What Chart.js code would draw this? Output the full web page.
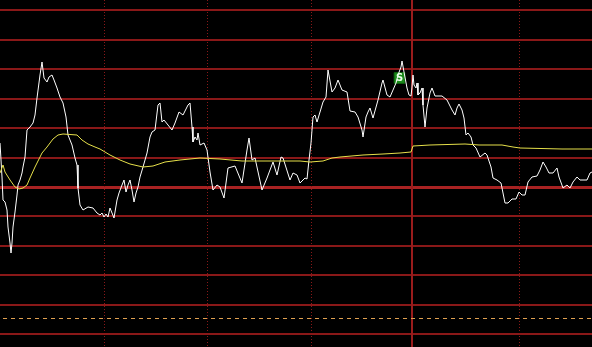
<!DOCTYPE html>
<html>
<head>
<meta charset="utf-8">
<script src="https://cdn.jsdelivr.net/npm/chart.js@4"></script>
<style>
  html, body { margin: 0; padding: 0; background: #000; }
  #wrap { width: 592px; height: 347px; position: relative; }
</style>
</head>
<body>
<div id="wrap"><canvas id="c"></canvas></div>
<script>
// indicator line (white)
const priceX = [0,2,3,5,7,8,10,11,12,13,15,17,18,20,22,23,25,27,30,33,35,37,40,42,44,47,49,52,54,57,60,63,66,68,72,75,77,78,80,83,88,93,97,100,102,104,106,108,110,112,114,117,119,122,124,126,128,130,132,134,136,138,140,143,147,150,152,155,158,160,162,164,168,172,175,179,183,188,190,192,193,195,197,198,200,204,207,210,213,217,220,224,228,235,242,247,249,252,255,262,267,273,277,281,283,290,293,297,300,305,307,309,311,313,315,317,320,323,326,328,332,335,338,342,347,350,355,358,362,363,366,368,370,373,378,382,383,387,390,393,396,398,401,402,404,407,409,411,412,413,414,416,417,418,420,422,423,425,427,430,432,435,442,447,452,455,457,459,462,464,466,468,471,473,476,480,485,487,491,493,497,501,503,505,508,512,516,519,522,525,528,532,537,540,543,546,549,553,557,559,563,567,570,573,577,580,587,590,592];
const priceY = [204,170,147,145,137,120,104,94,104,120,135,152,162,167,174,180,190,217,220,224,232,249,272,285,269,265,270,272,267,259,250,244,230,212,202,189,182,159,142,137,140,139,134,132,134,130,133,130,139,134,129,147,154,162,167,155,162,167,157,145,154,160,170,180,194,210,215,217,242,244,225,227,222,217,224,235,232,242,244,220,205,210,207,214,202,204,197,175,157,162,160,149,179,181,164,197,209,187,189,157,169,185,172,190,189,167,174,172,164,169,168,187,204,230,232,225,235,245,250,277,255,259,267,257,255,236,235,230,217,210,230,235,239,229,247,264,267,252,250,257,264,272,280,286,275,259,252,251,260,272,262,259,264,252,254,259,242,220,239,254,259,251,251,247,237,232,239,243,237,229,212,214,210,202,199,190,194,192,180,169,167,164,154,144,144,148,148,155,152,152,165,170,171,177,185,180,174,174,179,170,159,162,159,165,170,167,167,174,175];

// moving average (yellow)
const avgX = [0,3,5,10,15,19,23,27,30,35,42,47,53,58,63,77,82,88,95,100,110,120,130,143,153,165,180,200,220,242,300,310,323,332,340,363,383,400,411,413,430,465,479,502,513,520,562,592];
const avgY = [174,182,175,167,160,158,159,162,169,180,194,200,208,212,213,212,207,203,200,198,192,187,183,180,181,185,187,189,188,186,186,185,186,189,190,192,193,194,195,201,202,203,202,202,200,199,198,198];

// levels and time marks
const levels = [336.5, 307.1, 277.7, 248.3, 218.9, 189.5, 160.1, 130.7, 101.3, 71.9, 42.5, 13.1];
const mainLevel = 160.1;
const dashLevel = 28.7;
const dayMarks = [103.5, 207, 310.5, 518.5];
const nowMark = 411.5;
const signalX = [399.5];
const signalY = [269];
const signalText = "S";

const pts = (xs, ys) => xs.map((x, i) => ({ x, y: ys[i] }));

const backdrop = {
  id: "backdrop",
  beforeDatasetsDraw(chart) {
    const { ctx, scales: { x, y }, chartArea: a } = chart;
    ctx.save();
    levels.forEach((v) => {
      const py = Math.round(y.getPixelForValue(v));
      const main = v === mainLevel;
      ctx.strokeStyle = main ? "#a82222" : "#8a1818";
      ctx.lineWidth = main ? 3 : 2;
      ctx.beginPath();
      ctx.moveTo(a.left, main ? py + 0.5 : py);
      ctx.lineTo(a.right, main ? py + 0.5 : py);
      ctx.stroke();
    });
    ctx.strokeStyle = "#8a1818";
    ctx.lineWidth = 1;
    ctx.setLineDash([1, 2]);
    dayMarks.forEach((v) => {
      const px = Math.round(x.getPixelForValue(v)) + 0.5;
      ctx.beginPath();
      ctx.moveTo(px, a.top);
      ctx.lineTo(px, a.bottom);
      ctx.stroke();
    });
    ctx.setLineDash([]);
    const nx = Math.round(x.getPixelForValue(nowMark));
    ctx.strokeStyle = "#9a1c1c";
    ctx.lineWidth = 2;
    ctx.beginPath();
    ctx.moveTo(nx, a.top);
    ctx.lineTo(nx, a.bottom);
    ctx.stroke();
    const dy = Math.round(y.getPixelForValue(dashLevel)) + 0.5;
    ctx.strokeStyle = "#e0a050";
    ctx.lineWidth = 1;
    ctx.setLineDash([4, 4]);
    ctx.beginPath();
    ctx.moveTo(a.left + 3, dy);
    ctx.lineTo(a.right, dy);
    ctx.stroke();
    ctx.restore();
  },
  afterDatasetsDraw(chart) {
    const meta = chart.getDatasetMeta(2);
    const { ctx } = chart;
    ctx.save();
    ctx.fillStyle = "#e8ffe8";
    ctx.font = "bold 10px 'DejaVu Sans', sans-serif";
    ctx.textAlign = "center";
    ctx.textBaseline = "middle";
    meta.data.forEach((p) => ctx.fillText(signalText, p.x, p.y + 0.5));
    ctx.restore();
  },
};

new Chart(document.getElementById("c"), {
  type: "line",
  data: {
    datasets: [
      { data: pts(avgX, avgY), borderColor: "#e6e04a", borderWidth: 1, pointRadius: 0, tension: 0 },
      { data: pts(priceX, priceY), borderColor: "#ffffff", borderWidth: 1, pointRadius: 0, tension: 0 },
      { data: pts(signalX, signalY), showLine: false, pointStyle: "rect", pointRadius: 7.5, backgroundColor: "#1c8c1c", borderColor: "#0f6a0f", borderWidth: 1 },
    ],
  },
  options: {
    responsive: true,
    maintainAspectRatio: false,
    animation: false,
    layout: { padding: 0, autoPadding: false },
    plugins: { legend: { display: false }, tooltip: { enabled: false } },
    scales: {
      x: { type: "linear", min: 0, max: 592, display: false },
      y: { min: 0, max: 347, display: false },
    },
  },
  plugins: [backdrop],
});
</script>
</body>
</html>
